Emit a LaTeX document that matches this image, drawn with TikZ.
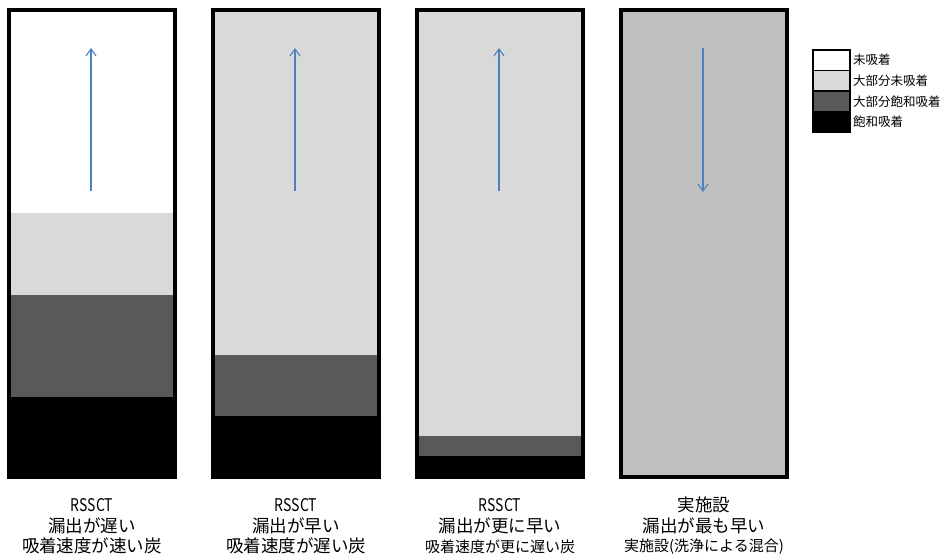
\documentclass[tikz,border=0pt]{standalone}
\usepackage{fontspec}
\setmainfont{Noto Sans CJK JP}
\newfontfamily\narrowfont[FakeStretch=0.8]{Noto Sans CJK JP}
\usetikzlibrary{arrows.meta}
\definecolor{lg}{RGB}{217,217,217}
\definecolor{dg}{RGB}{89,89,89}
\definecolor{mg}{RGB}{191,191,191}
\definecolor{arr}{RGB}{79,129,189}
\tikzset{
  colborder/.style={draw=black,line width=3.2pt},
  flow/.style={draw=arr,line width=1.1pt,-{Straight Barb[length=7pt,width=10pt,line width=1.1pt]}},
  legbox/.style={draw=black,line width=1.6pt},
  legtext/.style={anchor=west,inner sep=0pt,font=\fontsize{12.5}{14}\selectfont},
  lab/.style={inner sep=0pt,font=\fontsize{17.5}{20}\selectfont},
  labsmall/.style={inner sep=0pt,font=\fontsize{15}{17}\selectfont}
}
\begin{document}
\begin{tikzpicture}[x=1pt,y=-1pt]
\useasboundingbox (0,0) rectangle (946,556);
% column 1
\fill[white] (9,10) rectangle (175,213);
\fill[lg] (9,213) rectangle (175,295);
\fill[dg] (9,295) rectangle (175,397);
\fill[black] (9,397) rectangle (175,477);
\draw[colborder] (9,10) rectangle (175,477);
% column 2
\fill[lg] (213,10) rectangle (379,355);
\fill[dg] (213,355) rectangle (379,416);
\fill[black] (213,416) rectangle (379,477);
\draw[colborder] (213,10) rectangle (379,477);
% column 3
\fill[lg] (417,10) rectangle (583,436);
\fill[dg] (417,436) rectangle (583,456);
\fill[black] (417,456) rectangle (583,477);
\draw[colborder] (417,10) rectangle (583,477);
% column 4
\fill[mg] (621,10) rectangle (787,477);
\draw[colborder] (621,10) rectangle (787,477);
% arrows
\coordinate (a1s) at (91,191); \coordinate (a1e) at (91,48);
\coordinate (a2s) at (295,191); \coordinate (a2e) at (295,48);
\coordinate (a3s) at (499,191); \coordinate (a3e) at (499,48);
\coordinate (a4s) at (703,48); \coordinate (a4e) at (703,192);
\draw[flow] (a1s) -- (a1e);
\draw[flow] (a2s) -- (a2e);
\draw[flow] (a3s) -- (a3e);
\draw[flow] (a4s) -- (a4e);
% legend
\draw[legbox,fill=white] (813,50) rectangle (850,70.5);
\draw[legbox,fill=lg] (813,70.5) rectangle (850,91);
\draw[legbox,fill=dg] (813,91) rectangle (850,111.5);
\draw[legbox,fill=black] (813,111.5) rectangle (850,132);
\node[legtext] (l1) at (853,60) {未吸着};
\node[legtext] (l2) at (853,81) {大部分未吸着};
\node[legtext] (l3) at (853,101.5) {大部分飽和吸着};
\node[legtext] (l4) at (853,122) {飽和吸着};
% labels
\node[lab] (c1a) at (92,505) {\narrowfont RSSCT};
\node[lab] (c1b) at (92,526) {漏出が遅い};
\node[lab] (c1c) at (92,546) {吸着速度が速い炭};
\node[lab] (c2a) at (296,505) {\narrowfont RSSCT};
\node[lab] (c2b) at (296,526) {漏出が早い};
\node[lab] (c2c) at (296,546) {吸着速度が遅い炭};
\node[lab] (c3a) at (500,505) {\narrowfont RSSCT};
\node[lab] (c3b) at (500,526) {漏出が更に早い};
\node[labsmall] (c3c) at (500,546.5) {吸着速度が更に遅い炭};
\node[lab] (c4a) at (704,505) {実施設};
\node[lab] (c4b) at (704,526) {漏出が最も早い};
\node[labsmall] (c4c) at (704,546.5) {実施設(洗浄による混合)};
\end{tikzpicture}
\end{document}
